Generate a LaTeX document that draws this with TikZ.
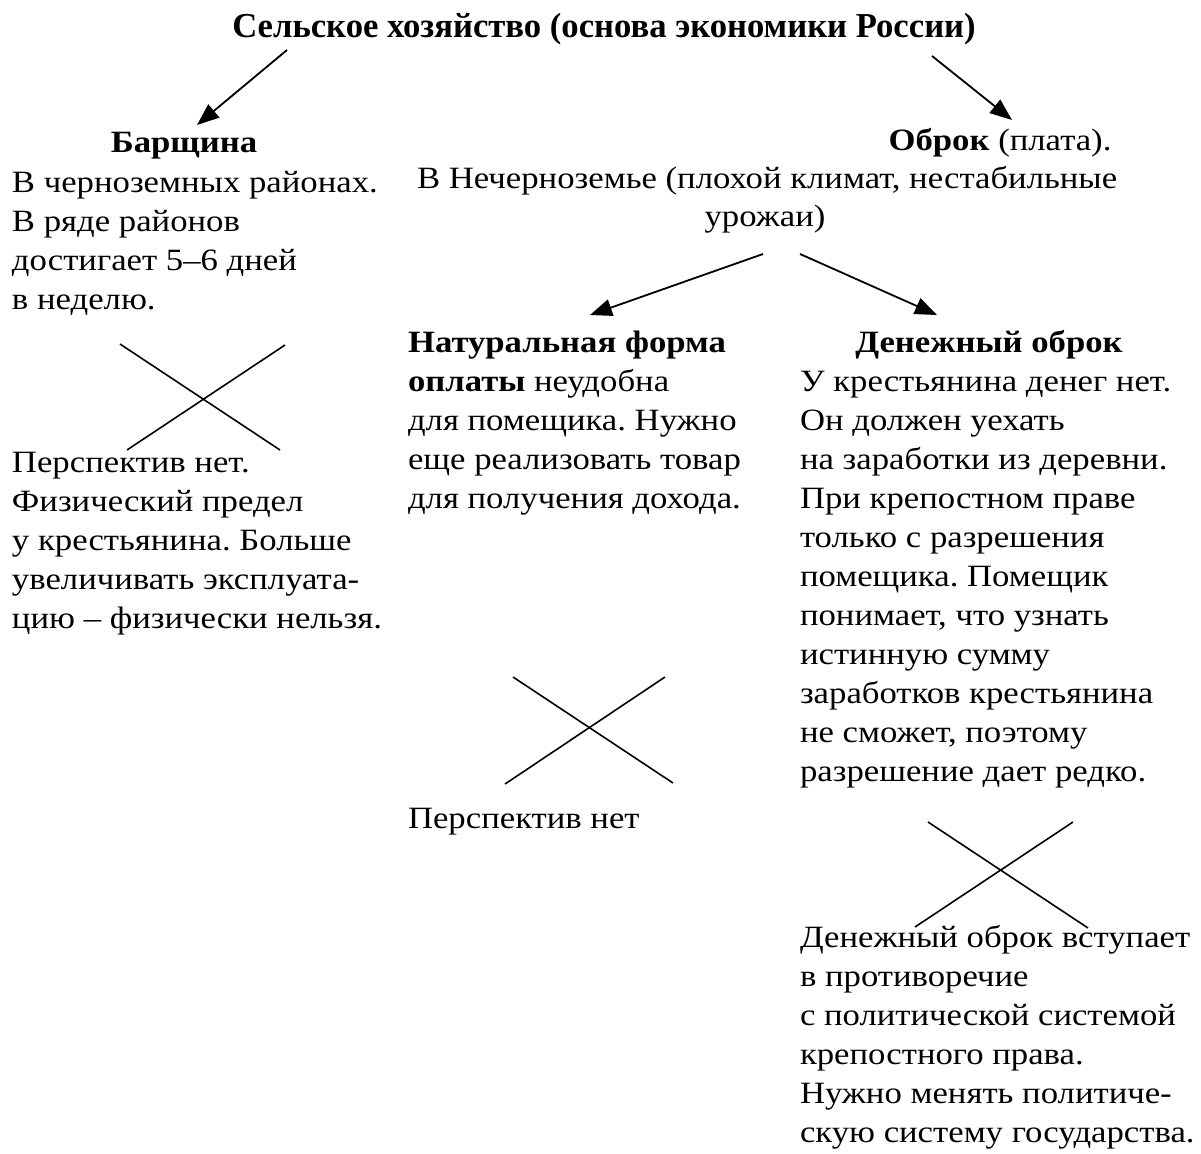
\documentclass[tikz,border=0pt]{standalone}
\usepackage{fontspec}
\setmainfont{Liberation Serif}[FakeStretch=1.12]
\newfontfamily\titlefont{Liberation Serif}[FakeStretch=0.99]
\usetikzlibrary{arrows.meta}
\frenchspacing
\newcommand\myline[4]{\node[txt] (#1) at (#2,#3) {#4};}
\newcommand\mymid[4]{\node[txtc] (#1) at (#2,#3) {#4};}
\begin{document}
\begin{tikzpicture}[x=1pt,y=-1pt,
  txt/.style={anchor=base west, inner sep=0pt, outer sep=0pt, font=\fontsize{31}{39}\selectfont},
  txtc/.style={txt, anchor=base},
  arr/.style={line width=1.8pt, -{Triangle[length=22pt,width=17pt]}},
  cross/.style={line width=1.6pt}]
\useasboundingbox[fill=white] (0,0) rectangle (1201,1153);

% title
\node[anchor=base, inner sep=0pt, font=\fontsize{35}{39}\selectfont\titlefont\bfseries] (title) at (604,38) {Сельское хозяйство (основа экономики России)};

% left column
\mymid{barsh}{184}{153}{\textbf{Барщина}}
\myline{l1}{12}{192}{В черноземных районах.}
\myline{l2}{12}{231}{В ряде районов}
\myline{l3}{12}{270}{достигает 5–6 дней}
\myline{l4}{12}{309}{в неделю.}
\myline{l5}{12}{472}{Перспектив нет.}
\myline{l6}{12}{511}{Физический предел}
\myline{l7}{12}{550}{у крестьянина. Больше}
\myline{l8}{12}{589}{увеличивать эксплуата-}
\myline{l9}{12}{628}{цию – физически нельзя.}

% obrok
\mymid{obrok}{1000}{150}{\textbf{Оброк} (плата).}
\myline{o1}{417}{188}{В Нечерноземье (плохой климат, нестабильные}
\mymid{o2}{765}{226}{урожаи)}

% middle column
\myline{m1}{408}{352}{\textbf{Натуральная форма}}
\myline{m2}{408}{391}{\textbf{оплаты} неудобна}
\myline{m3}{408}{430}{для помещика. Нужно}
\myline{m4}{408}{469}{еще реализовать товар}
\myline{m5}{408}{508}{для получения дохода.}
\myline{m6}{408}{828}{Перспектив нет}

% right column
\mymid{r0}{989}{352}{\textbf{Денежный оброк}}
\myline{r1}{800}{391}{У крестьянина денег нет.}
\myline{r2}{800}{430}{Он должен уехать}
\myline{r3}{800}{469}{на заработки из деревни.}
\myline{r4}{800}{508}{При крепостном праве}
\myline{r5}{800}{547}{только с разрешения}
\myline{r6}{800}{586}{помещика. Помещик}
\myline{r7}{800}{625}{понимает, что узнать}
\myline{r8}{800}{664}{истинную сумму}
\myline{r9}{800}{703}{заработков крестьянина}
\myline{r10}{800}{742}{не сможет, поэтому}
\myline{r11}{800}{781}{разрешение дает редко.}
\myline{r12}{800}{947}{Денежный оброк вступает}
\myline{r13}{800}{986}{в противоречие}
\myline{r14}{800}{1025}{с политической системой}
\myline{r15}{800}{1064}{крепостного права.}
\myline{r16}{800}{1103}{Нужно менять политиче-}
\myline{r17}{800}{1142}{скую систему государства.}

% arrow end points
\coordinate (aL1) at (287,50);
\coordinate (aL2) at (197,125);
\coordinate (aR1) at (932,56);
\coordinate (aR2) at (1012,120);
\coordinate (aM1) at (763,254);
\coordinate (aM2) at (590,315);
\coordinate (aN1) at (800,254);
\coordinate (aN2) at (937,315);

\draw[arr] (aL1) -- (aL2);
\draw[arr] (aR1) -- (aR2);
\draw[arr] (aM1) -- (aM2);
\draw[arr] (aN1) -- (aN2);

% crosses
\coordinate (x1a) at (120,344); \coordinate (x1b) at (280,450);
\coordinate (x1c) at (285,345); \coordinate (x1d) at (127,450);
\draw[cross] (x1a) -- (x1b);
\draw[cross] (x1c) -- (x1d);

\coordinate (x2a) at (513,677); \coordinate (x2b) at (673,783);
\coordinate (x2c) at (665,677); \coordinate (x2d) at (505,784);
\draw[cross] (x2a) -- (x2b);
\draw[cross] (x2c) -- (x2d);

\coordinate (x3a) at (928,822); \coordinate (x3b) at (1088,928);
\coordinate (x3c) at (1073,822); \coordinate (x3d) at (915,927);
\draw[cross] (x3a) -- (x3b);
\draw[cross] (x3c) -- (x3d);
\end{tikzpicture}
\end{document}
